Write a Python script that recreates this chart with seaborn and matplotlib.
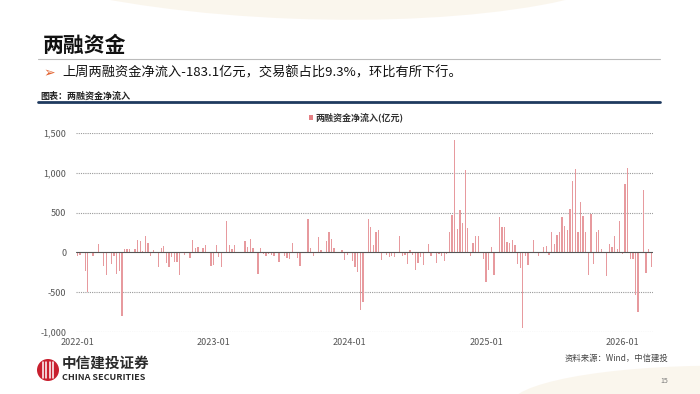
import pandas as pd
import matplotlib.pyplot as plt
import matplotlib.patches as mpatches
from matplotlib.lines import Line2D
import seaborn as sns

# 两融资金周度净流入（亿元），读自原图
vals_2022 = [-40, -30, 0, -230, -500, 0, -50, 10, 100, 0,
             -170, -280, 0, -150, -50, -270, -240, -800, 40, 40,
             40, 10, 40, 160, 140, 20, 200, 120, -40, 30,
             10, -180, 60, 80, -130, -180, -60, -120, -120, -290,
             0, -30, 0, -70, 160, 60, 70, 0, 60, 90,
             0, -170]
vals_2023 = [-160, 90, -60, -180, 0, 390, 90, 40, 90, 10,
             10, 10, 140, 70, 170, 60, 0, -270, 60, -20,
             -40, -20, -30, -40, 0, -120, 0, -40, -70, -80,
             120, 0, -70, -170, 0, 0, 420, 60, -40, 0,
             190, 30, -10, 140, 250, 170, 50, 10, 0, 30,
             -100, -30]
vals_2024 = [0, -110, -180, -250, -730, -620, 0, 420, 320, 90,
             260, 280, -90, 10, -30, -60, -50, -60, 0, 200,
             -40, -30, -150, 30, -30, -220, -130, -60, -160, 0,
             100, -40, -10, -130, -20, -50, -110, -20, 250, 470,
             1410, 300, 530, 370, 1040, 310, -50, 120, 200, 210,
             0, -80]
vals_2025 = [-370, -220, 70, -280, 0, 450, 320, 320, 130, 120,
             160, 90, -150, -200, -950, -50, -160, 0, 160, 0,
             -50, 0, 70, 80, -30, 260, 110, 220, 260, 450,
             330, 280, 540, 900, 1050, 260, 630, 460, 250, -280,
             480, -140, 260, 280, 40, 0, -300, 110, 70, 200,
             40, 390]
vals_2026 = [-20, 860, 1060, -80, -80, -530, -750, 0, 790, -260, 40, -183.1]

values = vals_2022 + vals_2023 + vals_2024 + vals_2025 + vals_2026
weeks = pd.date_range('2022-01-07', periods=len(values), freq='W-FRI')
df = pd.DataFrame({'week': weeks.strftime('%Y-%m-%d'), 'value': values})

y_ticks = [-1000, -500, 0, 500, 1000, 1500]
tick_idx = [i for i in range(len(weeks)) if i == 0 or weeks[i].year != weeks[i - 1].year]
tick_labels = [weeks[i].strftime('%Y-01') for i in tick_idx]

bar_color = '#E79A9E'

sns.set_style('white')
plt.rcParams['font.family'] = ['Noto Sans CJK SC', 'DejaVu Sans']
plt.rcParams['axes.unicode_minus'] = False

W, H = 700, 394
fig = plt.figure(figsize=(7, 3.94), dpi=100)
fig.patch.set_facecolor('white')


def fx(x):
    return x / W


def fy(y):
    return 1 - y / H


# 幻灯片背景上的浅色弧形
fig.add_artist(mpatches.Ellipse((fx(300), fy(-60)), 1.0, 0.40, angle=-4, facecolor='#F8F0E2',
                                edgecolor='none', alpha=0.6, transform=fig.transFigure, zorder=0))
fig.add_artist(mpatches.Ellipse((fx(720), fy(405)), 0.6, 0.2, facecolor='#F8F0E2',
                                edgecolor='none', alpha=0.6, transform=fig.transFigure, zorder=0))

ax = fig.add_axes([0.1086, 0.1574, 0.8236, 0.505])
ax.patch.set_alpha(0)
sns.barplot(data=df, x='week', y='value', color=bar_color, saturation=1,
            width=0.5, linewidth=0, ax=ax)

ax.set_ylim(-1000, 1500)
ax.set_xlim(-0.5, len(values) - 0.5)
ax.set_yticks(y_ticks)
ax.set_yticklabels([f'{v:,}' for v in y_ticks])
ax.set_xticks(tick_idx)
ax.set_xticklabels(tick_labels)
ax.set_xlabel('')
ax.set_ylabel('')
for v in y_ticks:
    if v != 0:
        ax.axhline(v, color='#9A9A9A', lw=0.8, ls=(0, (1, 1)), zorder=0)
ax.axhline(0, color='#555555', lw=0.8, zorder=3)
for s in ax.spines.values():
    s.set_visible(False)
ax.tick_params(axis='both', length=0, labelsize=6.5, labelcolor='#555555')
ax.tick_params(axis='y', pad=7)
ax.tick_params(axis='x', pad=4)

# 标题区
fig.text(fx(43), fy(45), '两融资金', fontsize=15, fontweight='bold', color='#111111', va='center')
fig.add_artist(Line2D([fx(38), fx(660)], [fy(59), fy(59)], color='#BBBBBB', lw=0.8))
fig.text(fx(43), fy(73), '➢', fontsize=10, color='#E2622F', va='center', family=['DejaVu Sans'])
fig.text(fx(62), fy(73), '上周两融资金净流入-183.1亿元，交易额占比9.3%，环比有所下行。',
         fontsize=9.5, color='#111111', va='center')
fig.text(fx(40), fy(96), '图表：两融资金净流入', fontsize=6.5, fontweight='bold', color='#222222', va='center')
fig.add_artist(Line2D([fx(38), fx(660)], [fy(102), fy(102)], color='#1F3A5F', lw=2))

# 图例
fig.add_artist(mpatches.Rectangle((fx(309), fy(119.5)), 4 / W, 4 / H, facecolor='#E57F84',
                                  edgecolor='none', transform=fig.transFigure))
fig.text(fx(315), fy(117), '两融资金净流入(亿元)', fontsize=6.5, fontweight='bold', color='#333333', va='center')

# 页脚
fig.add_artist(mpatches.Ellipse((fx(48), fy(370)), 22 / W, 22 / H, facecolor='#C8202F', edgecolor='none',
                                transform=fig.transFigure))
for dx in (-5, -1.7, 1.7, 5):
    fig.add_artist(Line2D([fx(48 + dx), fx(48 + dx)], [fy(362), fy(378)], color='white', lw=1.1))
fig.text(fx(62), fy(363), '中信建投证券', fontsize=10.5, fontweight='bold', color='#2A2A2A', va='center')
fig.text(fx(62), fy(378), 'CHINA SECURITIES', fontsize=6.5, fontweight='bold', color='#2A2A2A', va='center')
fig.text(fx(668), fy(358), '资料来源：Wind，中信建投', fontsize=6, style='italic', color='#444444',
         ha='right', va='center')
fig.text(fx(668), fy(381), '15', fontsize=5, color='#777777', ha='right', va='center')

fig.savefig('out.png', dpi=100)
